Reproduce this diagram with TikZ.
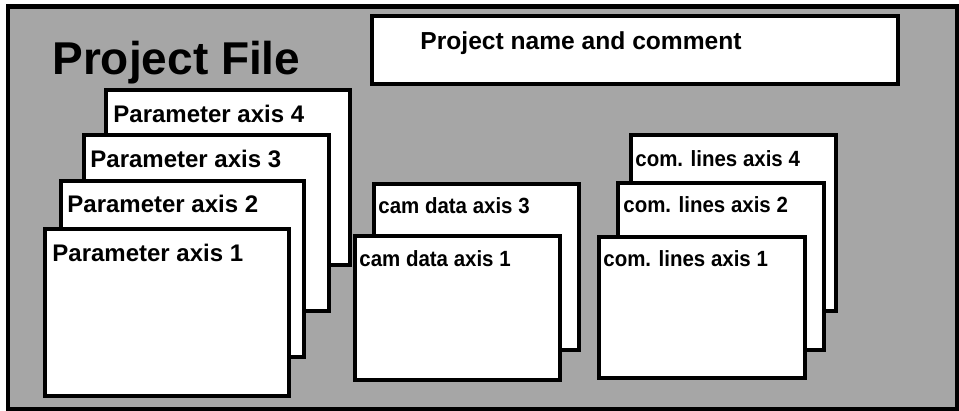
\documentclass[tikz,border=0pt]{standalone}
\usepackage{fontspec}
\setmainfont{Liberation Sans}
\newfontfamily\narrowsans[FakeStretch=0.93]{Liberation Sans}
\begin{document}
\begin{tikzpicture}[x=0.5pt,y=-0.5pt,
    sheet/.style={draw, line width=2.2pt, fill=white},
    parlabel/.style={anchor=base west, inner sep=0pt, font=\bfseries\fontsize{12}{14}\selectfont},
    axlabel/.style={anchor=base west, inner sep=0pt, font=\narrowsans\bfseries\fontsize{11}{13}\selectfont}]
    \useasboundingbox (0,0) rectangle (959,411);
    % frame of the project file
    \draw[line width=2.3pt, fill=black!35] (8,6.5) rectangle (957,409.5);
    \node[anchor=base west, inner sep=0pt, font=\bfseries\fontsize{23}{26}\selectfont] (title) at (52,75) {Project File};
    \draw[sheet] (372,16) rectangle (898,84);
    \node[parlabel, font=\bfseries\fontsize{12.3}{14}\selectfont] (comment) at (420,50) {Project name and comment};
    % parameter axes
    \draw[sheet] (106,90) rectangle (350,265);
    \node[parlabel] (par4) at (113,123) {Parameter axis 4};
    \draw[sheet] (84,135) rectangle (329,311);
    \node[parlabel] (par3) at (90,168) {Parameter axis 3};
    \draw[sheet] (61,181) rectangle (304,357);
    \node[parlabel] (par2) at (67,213) {Parameter axis 2};
    \draw[sheet] (45,229) rectangle (289,396);
    \node[parlabel] (par1) at (52,262) {Parameter axis 1};
    % cam data
    \draw[sheet] (374,184) rectangle (579,350);
    \node[axlabel] (cam3) at (378,214) {cam data axis 3};
    \draw[sheet] (355,236) rectangle (560,380);
    \node[axlabel] (cam1) at (359,267) {cam data axis 1};
    % com. lines
    \draw[sheet] (631,135) rectangle (836,311);
    \node[axlabel] (com4) at (635,167) {com. lines axis 4};
    \draw[sheet] (618,183) rectangle (824,350);
    \node[axlabel] (com2) at (623,213) {com. lines axis 2};
    \draw[sheet] (599,237) rectangle (805,378);
    \node[axlabel] (com1) at (603,267) {com. lines axis 1};
\end{tikzpicture}
\end{document}
